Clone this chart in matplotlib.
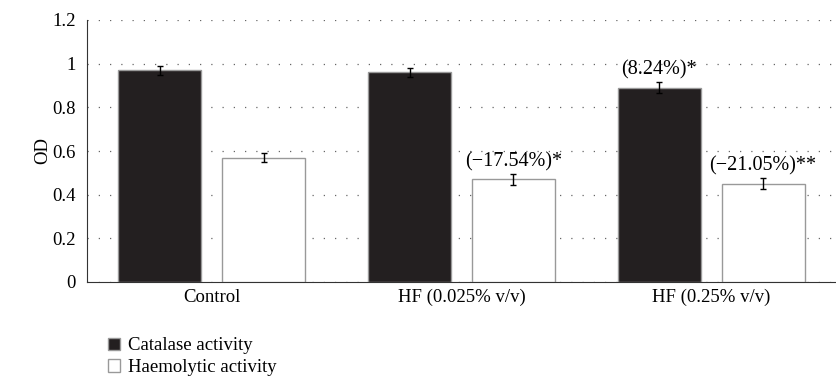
import numpy as np
import matplotlib.pyplot as plt

plt.rcParams['font.family'] = ['Liberation Serif', 'DejaVu Serif']

# Data
groups = ["Control", "HF (0.025% v/v)", "HF (0.25% v/v)"]
catalase = [0.97, 0.96, 0.89]
catalase_err = [0.02, 0.02, 0.025]
haemolytic = [0.57, 0.47, 0.45]
haemolytic_err = [0.02, 0.025, 0.025]
catalase_labels = ["", "", "(8.24%)*"]
haemolytic_labels = ["", "(\u221217.54%)*", "(\u221221.05%)**"]
yticks = [0, 0.2, 0.4, 0.6, 0.8, 1, 1.2]
ytick_labels = ["0", "0.2", "0.4", "0.6", "0.8", "1", "1.2"]

fs = 13.5

fig = plt.figure(figsize=(8.36, 3.8), dpi=100)
ax = fig.add_axes([87 / 836, 1 - 282 / 380, 1 - 87 / 836, (282 - 20) / 380])

x = np.arange(len(groups))
w = 0.332
off = (w + 0.084) / 2

ax.bar(x - off, catalase, w, color="#231f20", edgecolor="#999999", linewidth=1.0,
       label="Catalase activity", zorder=3)
ax.bar(x + off, haemolytic, w, color="white", edgecolor="#999999", linewidth=1.0,
       label="Haemolytic activity", zorder=3)
ax.errorbar(x - off, catalase, yerr=catalase_err, fmt="none", ecolor="black",
            elinewidth=1.0, capsize=2.5, capthick=1.0, zorder=4)
ax.errorbar(x + off, haemolytic, yerr=haemolytic_err, fmt="none", ecolor="black",
            elinewidth=1.0, capsize=2.5, capthick=1.0, zorder=4)

for i in range(len(groups)):
    if catalase_labels[i]:
        ax.text(x[i] - off, catalase[i] + catalase_err[i] + 0.012, catalase_labels[i],
                ha="center", va="bottom", fontsize=fs + 1, zorder=5)
    if haemolytic_labels[i]:
        ax.text(x[i] + off, haemolytic[i] + haemolytic_err[i] + 0.012, haemolytic_labels[i],
                ha="center", va="bottom", fontsize=fs + 1, zorder=5)

ax.set_xlim(-0.5, 2.5)
ax.set_ylim(0, 1.2)
ax.set_yticks(yticks)
ax.set_yticklabels(ytick_labels)
ax.set_xticks(x)
ax.set_xticklabels(groups)
ax.tick_params(axis="both", length=0, labelsize=fs, pad=5)
ax.tick_params(axis="y", pad=8)
ax.set_ylabel("OD", fontsize=fs, labelpad=1)

ax.yaxis.grid(True, color="#666666", linestyle=(0, (1, 8)), linewidth=0.9, zorder=0)
ax.set_axisbelow(True)
for s in ["top", "right"]:
    ax.spines[s].set_visible(False)
ax.spines["left"].set_color("#333333")
ax.spines["bottom"].set_color("#333333")

fig.legend(loc="upper left", bbox_to_anchor=(0.129, 0.112), frameon=False,
           fontsize=fs, handlelength=0.65, handleheight=0.65, handletextpad=0.45,
           labelspacing=0.25, borderaxespad=0, borderpad=0)

fig.savefig("out.png", dpi=100)
